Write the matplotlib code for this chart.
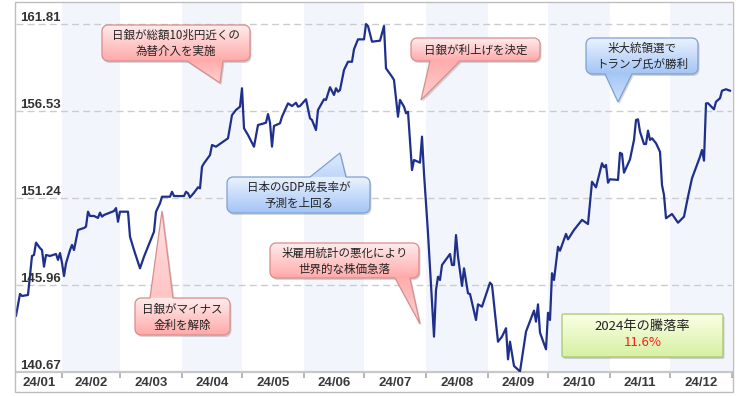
import numpy as np
import pandas as pd
import matplotlib
matplotlib.use("Agg")
import matplotlib.pyplot as plt
import matplotlib.transforms as mtransforms
from matplotlib.patches import Polygon, Rectangle
from matplotlib.colors import LinearSegmentedColormap

# ---------------- data ----------------
dates = [
"2024-01-09","2024-01-11","2024-01-12","2024-01-15","2024-01-17","2024-01-18","2024-01-19","2024-01-21","2024-01-22","2024-01-23","2024-01-24","2024-01-26","2024-01-29","2024-01-30","2024-01-31",
"2024-02-01","2024-02-02","2024-02-03","2024-02-05","2024-02-06","2024-02-07","2024-02-08","2024-02-09","2024-02-12","2024-02-13","2024-02-14","2024-02-15","2024-02-17","2024-02-19","2024-02-20","2024-02-21","2024-02-22","2024-02-27","2024-02-28","2024-02-29",
"2024-03-01","2024-03-05","2024-03-06","2024-03-08","2024-03-11","2024-03-13","2024-03-14","2024-03-18","2024-03-19","2024-03-21","2024-03-22","2024-03-26","2024-03-27","2024-03-28",
"2024-04-02","2024-04-03","2024-04-04","2024-04-05","2024-04-07","2024-04-09","2024-04-10","2024-04-11","2024-04-12","2024-04-15","2024-04-16","2024-04-18","2024-04-24","2024-04-26","2024-04-28","2024-04-30",
"2024-05-01","2024-05-02","2024-05-04","2024-05-07","2024-05-09","2024-05-11","2024-05-13","2024-05-14","2024-05-15","2024-05-16","2024-05-17","2024-05-20","2024-05-21","2024-05-24","2024-05-26","2024-05-28","2024-05-29","2024-05-30",
"2024-06-02","2024-06-04","2024-06-05","2024-06-07","2024-06-08","2024-06-11","2024-06-12","2024-06-14","2024-06-16","2024-06-17","2024-06-18","2024-06-19","2024-06-21","2024-06-23","2024-06-25","2024-06-26","2024-06-28",
"2024-07-01","2024-07-02","2024-07-03","2024-07-05","2024-07-09","2024-07-11","2024-07-12","2024-07-15","2024-07-16","2024-07-18","2024-07-19","2024-07-21","2024-07-22","2024-07-23","2024-07-25","2024-07-26","2024-07-29","2024-07-30","2024-07-31",
"2024-08-02","2024-08-05","2024-08-06","2024-08-07","2024-08-08","2024-08-09","2024-08-13","2024-08-14","2024-08-15","2024-08-16","2024-08-17","2024-08-19","2024-08-20","2024-08-22","2024-08-23","2024-08-26","2024-08-27","2024-08-29",
"2024-09-02","2024-09-03","2024-09-06","2024-09-08","2024-09-10","2024-09-11","2024-09-12","2024-09-14","2024-09-17","2024-09-20","2024-09-24","2024-09-25","2024-09-26","2024-09-27","2024-09-30",
"2024-10-01","2024-10-02","2024-10-03","2024-10-04","2024-10-06","2024-10-07","2024-10-10","2024-10-11","2024-10-14","2024-10-18","2024-10-21","2024-10-23","2024-10-25","2024-10-28","2024-10-29","2024-10-30","2024-10-31",
"2024-11-01","2024-11-05","2024-11-06","2024-11-07","2024-11-08","2024-11-11","2024-11-13","2024-11-14","2024-11-15","2024-11-16","2024-11-18","2024-11-19","2024-11-20","2024-11-21","2024-11-22","2024-11-24","2024-11-26","2024-11-27","2024-11-28","2024-11-29",
"2024-12-02","2024-12-05","2024-12-08","2024-12-10","2024-12-12","2024-12-16","2024-12-17","2024-12-18","2024-12-19","2024-12-20","2024-12-23","2024-12-24","2024-12-26","2024-12-27","2024-12-29","2024-12-31"]

usdjpy = [
144.09,145.41,145.29,145.35,147.72,147.78,148.53,148.20,148.08,147.07,147.78,147.72,147.84,147.48,147.90,
147.31,146.50,147.27,148.08,148.39,148.08,148.69,149.30,149.42,149.50,150.41,150.15,150.15,150.03,150.35,150.11,150.21,150.45,150.63,149.80,
150.41,150.41,148.89,148.08,146.97,147.68,147.98,149.19,150.41,150.92,151.32,151.32,151.62,151.36,
151.36,151.62,151.53,151.28,151.56,151.89,151.83,153.14,153.35,153.85,154.46,154.36,154.87,156.28,156.59,156.79,
157.91,155.48,155.07,154.36,155.68,155.74,155.82,156.34,155.82,154.36,155.62,155.78,156.18,156.99,156.83,157.03,156.79,156.83,
157.24,156.08,155.98,155.37,156.59,157.24,157.20,157.97,157.50,157.91,157.70,157.80,159.02,159.52,159.52,160.28,160.88,
160.88,161.81,161.69,160.74,160.80,161.69,159.12,158.61,158.41,156.18,157.20,156.79,156.39,156.48,152.94,153.55,153.39,154.97,152.74,
149.10,142.82,145.65,146.46,146.26,147.17,147.84,147.17,147.17,148.99,147.68,145.90,146.97,145.45,145.41,143.83,144.78,144.64,
146.10,145.96,142.51,142.82,143.33,141.44,142.51,141.04,140.70,143.12,144.40,143.73,144.78,143.06,142.05,
144.27,143.83,146.67,146.26,148.28,148.04,149.06,148.73,149.30,149.91,149.66,152.23,151.89,153.35,153.11,153.25,152.17,
152.38,152.34,153.99,153.92,152.78,153.59,154.77,155.98,156.02,155.27,154.52,154.52,155.33,154.77,154.87,154.57,154.05,152.03,151.42,150.01,
150.27,149.74,150.11,151.32,152.44,153.75,154.16,153.51,156.99,157.00,156.63,157.09,157.30,157.76,157.85,157.76]

y_ticks = [140.67, 145.96, 151.24, 156.53, 161.81]
month_labels = ["24/01", "24/02", "24/03", "24/04", "24/05", "24/06",
                "24/07", "24/08", "24/09", "24/10", "24/11", "24/12"]
annual_change_title = "2024年の騰落率"
annual_change_value = "11.6%"

# ---------------- figure ----------------
CJK = ['Noto Sans CJK JP', 'DejaVu Sans']
W, H = 750, 396
fig = plt.figure(figsize=(W / 100, H / 100), dpi=100)
fig.patch.set_facecolor('white')

ax = fig.add_axes([16 / W, (H - 372) / H, 716 / W, 370 / H])
x = pd.to_datetime(dates)
x_start = pd.Timestamp("2024-01-09")
x_end = pd.Timestamp("2025-01-01")
ax.set_xlim(x_start, x_end)
ax.set_ylim(140.67, 163.15)

month_starts = pd.date_range("2024-01-01", "2025-01-01", freq="MS")
for i in range(12):
    a, b = month_starts[i], month_starts[i + 1]
    if i % 2 == 1:
        ax.axvspan(a, b, color='#f2f6fc', lw=0, zorder=0)

for yt in y_ticks[1:]:
    ax.axhline(yt, color='#cccccc', lw=1.0, ls=(0, (5, 3)), zorder=1)

ax.plot(x, usdjpy, color='#1e2f8c', lw=1.6, zorder=3, solid_joinstyle='round')

for s in ['top', 'left', 'right']:
    ax.spines[s].set_visible(False)
ax.spines['bottom'].set_color('#c8c8c8')
ax.spines['bottom'].set_linewidth(1.6)

ax.set_xticks(month_starts[1:])
ax.set_xticklabels([])
ax.tick_params(axis='x', direction='out', length=4, width=1.2, color='#aaaaaa')
ax.set_yticks([])

# y labels inside the plot
ytrans = mtransforms.blended_transform_factory(ax.transAxes, ax.transData)
for yt in y_ticks:
    ax.text(0.006, yt, f"{yt:.2f}", transform=ytrans, ha='left', va='bottom',
            fontsize=9.5, fontweight='bold', color='#333333',
            family='Liberation Sans', zorder=4)

# month labels centred on the visible part of each month
xtrans = mtransforms.blended_transform_factory(ax.transData, ax.transAxes)
for i, lab in enumerate(month_labels):
    a = max(month_starts[i], x_start)
    b = month_starts[i + 1]
    mid = a + (b - a) / 2
    ax.text(mid, -0.03, lab, transform=xtrans, ha='center', va='center',
            fontsize=9.5, fontweight='bold', color='#3a3a3a', family='Liberation Sans')

# ---------------- overlay (callouts, frame) ----------------
ov = fig.add_axes([0, 0, 1, 1])
ov.set_xlim(0, W)
ov.set_ylim(H, 0)
ov.set_autoscale_on(False)
ov.axis('off')
ov.patch.set_alpha(0)

ov.add_patch(Rectangle((15, 1.5), 718, 390.5, fill=False, ec='#bdbdbd', lw=1.0))


def callout(box, side=None, pointer=None, c_top='#ffe6e6', c_bot='#ffa8a8',
            edge='#d88a8a', text=None, fs=8.3, r=6):
    x0, y0, x1, y1 = box

    def arc(cx, cy, a0, a1):
        t = np.radians(np.linspace(a0, a1, 8))
        return list(zip(cx + r * np.cos(t), cy + r * np.sin(t)))

    pts = [(x0 + r, y0)]
    if side == 'top':
        b0, b1, tip = pointer
        pts += [(b0, y0), tip, (b1, y0)]
    pts.append((x1 - r, y0))
    pts += arc(x1 - r, y0 + r, -90, 0)
    pts += arc(x1 - r, y1 - r, 0, 90)
    if side == 'bottom':
        b0, b1, tip = pointer
        pts += [(b1, y1), tip, (b0, y1)]
    pts += arc(x0 + r, y1 - r, 90, 180)
    pts += arc(x0 + r, y0 + r, 180, 270)
    poly = np.array(pts)

    ov.add_patch(Polygon(poly + np.array([1.5, 2.0]), closed=True,
                         fc=(0, 0, 0, 0.16), ec='none', zorder=1))
    patch = Polygon(poly, closed=True, fc='none', ec=edge, lw=0.9, zorder=3)
    ov.add_patch(patch)
    pymin, pymax = poly[:, 1].min(), poly[:, 1].max()
    rows = np.linspace(pymin, pymax, 400)
    grad = np.clip((rows - y0) / (y1 - y0), 0, 1)
    if side == 'top':
        above = rows < y0
        grad[above] = 0.15 + 0.45 * (rows[above] - pymin) / max(y0 - pymin, 1)
    elif side == 'bottom':
        below = rows > y1
        grad[below] = 0.95 - 0.55 * (rows[below] - y1) / max(pymax - y1, 1)
    grad = grad[:, None]
    cmap = LinearSegmentedColormap.from_list('g', [c_top, c_bot])
    im = ov.imshow(grad, cmap=cmap, vmin=0, vmax=1,
                   extent=(poly[:, 0].min(), poly[:, 0].max(), pymax, pymin),
                   origin='upper', aspect='auto', zorder=2, interpolation='bilinear')
    im.set_clip_path(patch)
    if text is not None:
        ov.text((x0 + x1) / 2, (y0 + y1) / 2 + 0.5, text, ha='center', va='center',
                fontsize=fs, family=CJK, color='#222222', linespacing=1.3, zorder=4)


PINK = dict(c_top='#ffecec', c_bot='#ffa9a9', edge='#d98c8c')
BLUE = dict(c_top='#eaf2ff', c_bot='#a3c5f5', edge='#7f9fd2')

callout((102, 25, 250, 61), 'bottom', (187, 223, (220, 83)),
        text="日銀が総額10兆円近くの\n為替介入を実施", **PINK)
callout((135, 298, 230, 335), 'top', (150, 173, (162, 211)),
        text="日銀がマイナス\n金利を解除", **PINK)
callout((227, 177, 370, 213), 'top', (310, 346, (340, 153)),
        text="日本のGDP成長率が\n予測を上回る", **BLUE)
callout((270, 243, 419, 278), 'bottom', (395, 410, (420, 324)),
        text="米雇用統計の悪化により\n世界的な株価急落", **PINK)
callout((411, 38, 540, 61), 'bottom', (430, 460, (421, 100)),
        text="日銀が利上げを決定", **PINK)
callout((586, 38, 698, 74), 'bottom', (605, 632, (618, 102)),
        text="米大統領選で\nトランプ氏が勝利", **BLUE)

# annual change box
callout((562, 314, 723, 357), c_top='#fbffe6', c_bot='#d6f0a2', edge='#a9c46e', r=1.5)
ov.text((562 + 723) / 2, 326, annual_change_title, ha='center', va='center',
        fontsize=9.5, family=CJK, color='#222222', zorder=4)
ov.text((562 + 723) / 2, 342, annual_change_value, ha='center', va='center',
        fontsize=9.5, family=CJK, color='#ff1a1a', zorder=4)

fig.savefig("out.png", dpi=100)
